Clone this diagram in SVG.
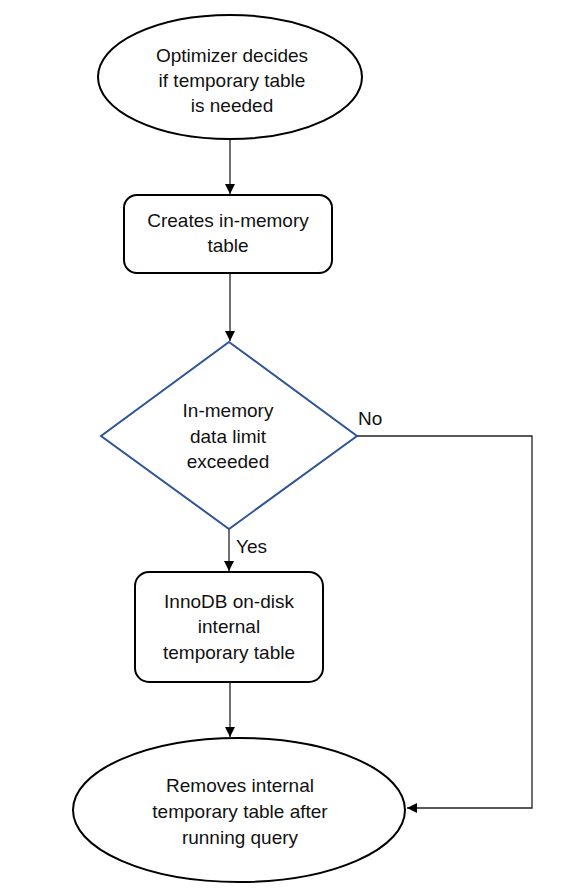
<svg xmlns="http://www.w3.org/2000/svg" width="580" height="889" viewBox="0 0 580 889">
<style>
.shape{fill:#fff;stroke:#000;stroke-width:2}
.dec{fill:#fff;stroke:#2f5597;stroke-width:2}
.t{font-family:"Liberation Sans",Arial,sans-serif;font-size:19px;fill:#111;text-anchor:middle}
.l{font-family:"Liberation Sans",Arial,sans-serif;font-size:19px;fill:#111}
.c{fill:none;stroke:#222;stroke-width:1.3}
</style>
<defs>
<marker id="ah" viewBox="0 0 10 10" refX="10" refY="5" markerWidth="10" markerHeight="10" markerUnits="userSpaceOnUse" orient="auto">
<path d="M0,0 L10,5 L0,10 z" fill="#000"/>
</marker>
</defs>
<rect width="580" height="889" fill="#fff"/>
<g id="connectors">
<line class="c" x1="230" y1="140" x2="230" y2="194" marker-end="url(#ah)"/>
<line class="c" x1="230" y1="273" x2="230" y2="341" marker-end="url(#ah)"/>
<line class="c" x1="229" y1="529" x2="229" y2="571" marker-end="url(#ah)"/>
<line class="c" x1="230" y1="682" x2="230" y2="737" marker-end="url(#ah)"/>
<polyline class="c" points="357,436 532,436 532,808 407,808" marker-end="url(#ah)"/>
<text class="l" x="358" y="425">No</text>
<text class="l" x="236" y="553">Yes</text>
</g>
<g id="start">
<ellipse class="shape" cx="230" cy="77" rx="132" ry="62"/>
<text class="t" x="232" y="62">Optimizer decides</text>
<text class="t" x="232" y="87">if temporary table</text>
<text class="t" x="232" y="112">is needed</text>
</g>
<g id="create">
<rect class="shape" x="124" y="195" width="208" height="78" rx="13"/>
<text class="t" x="228" y="227">Creates in-memory</text>
<text class="t" x="228" y="252">table</text>
</g>
<g id="decision">
<polygon class="dec" points="229,342 357,436 229,529 101,436"/>
<text class="t" x="228" y="417">In-memory</text>
<text class="t" x="228" y="443">data limit</text>
<text class="t" x="228" y="468">exceeded</text>
</g>
<g id="ondisk">
<rect class="shape" x="135" y="572" width="188" height="110" rx="14"/>
<text class="t" x="229" y="608">InnoDB on-disk</text>
<text class="t" x="229" y="633">internal</text>
<text class="t" x="229" y="659">temporary table</text>
</g>
<g id="end">
<ellipse class="shape" cx="239" cy="810" rx="166" ry="72"/>
<text class="t" x="240" y="792">Removes internal</text>
<text class="t" x="240" y="818">temporary table after</text>
<text class="t" x="240" y="844">running query</text>
</g>
</svg>
